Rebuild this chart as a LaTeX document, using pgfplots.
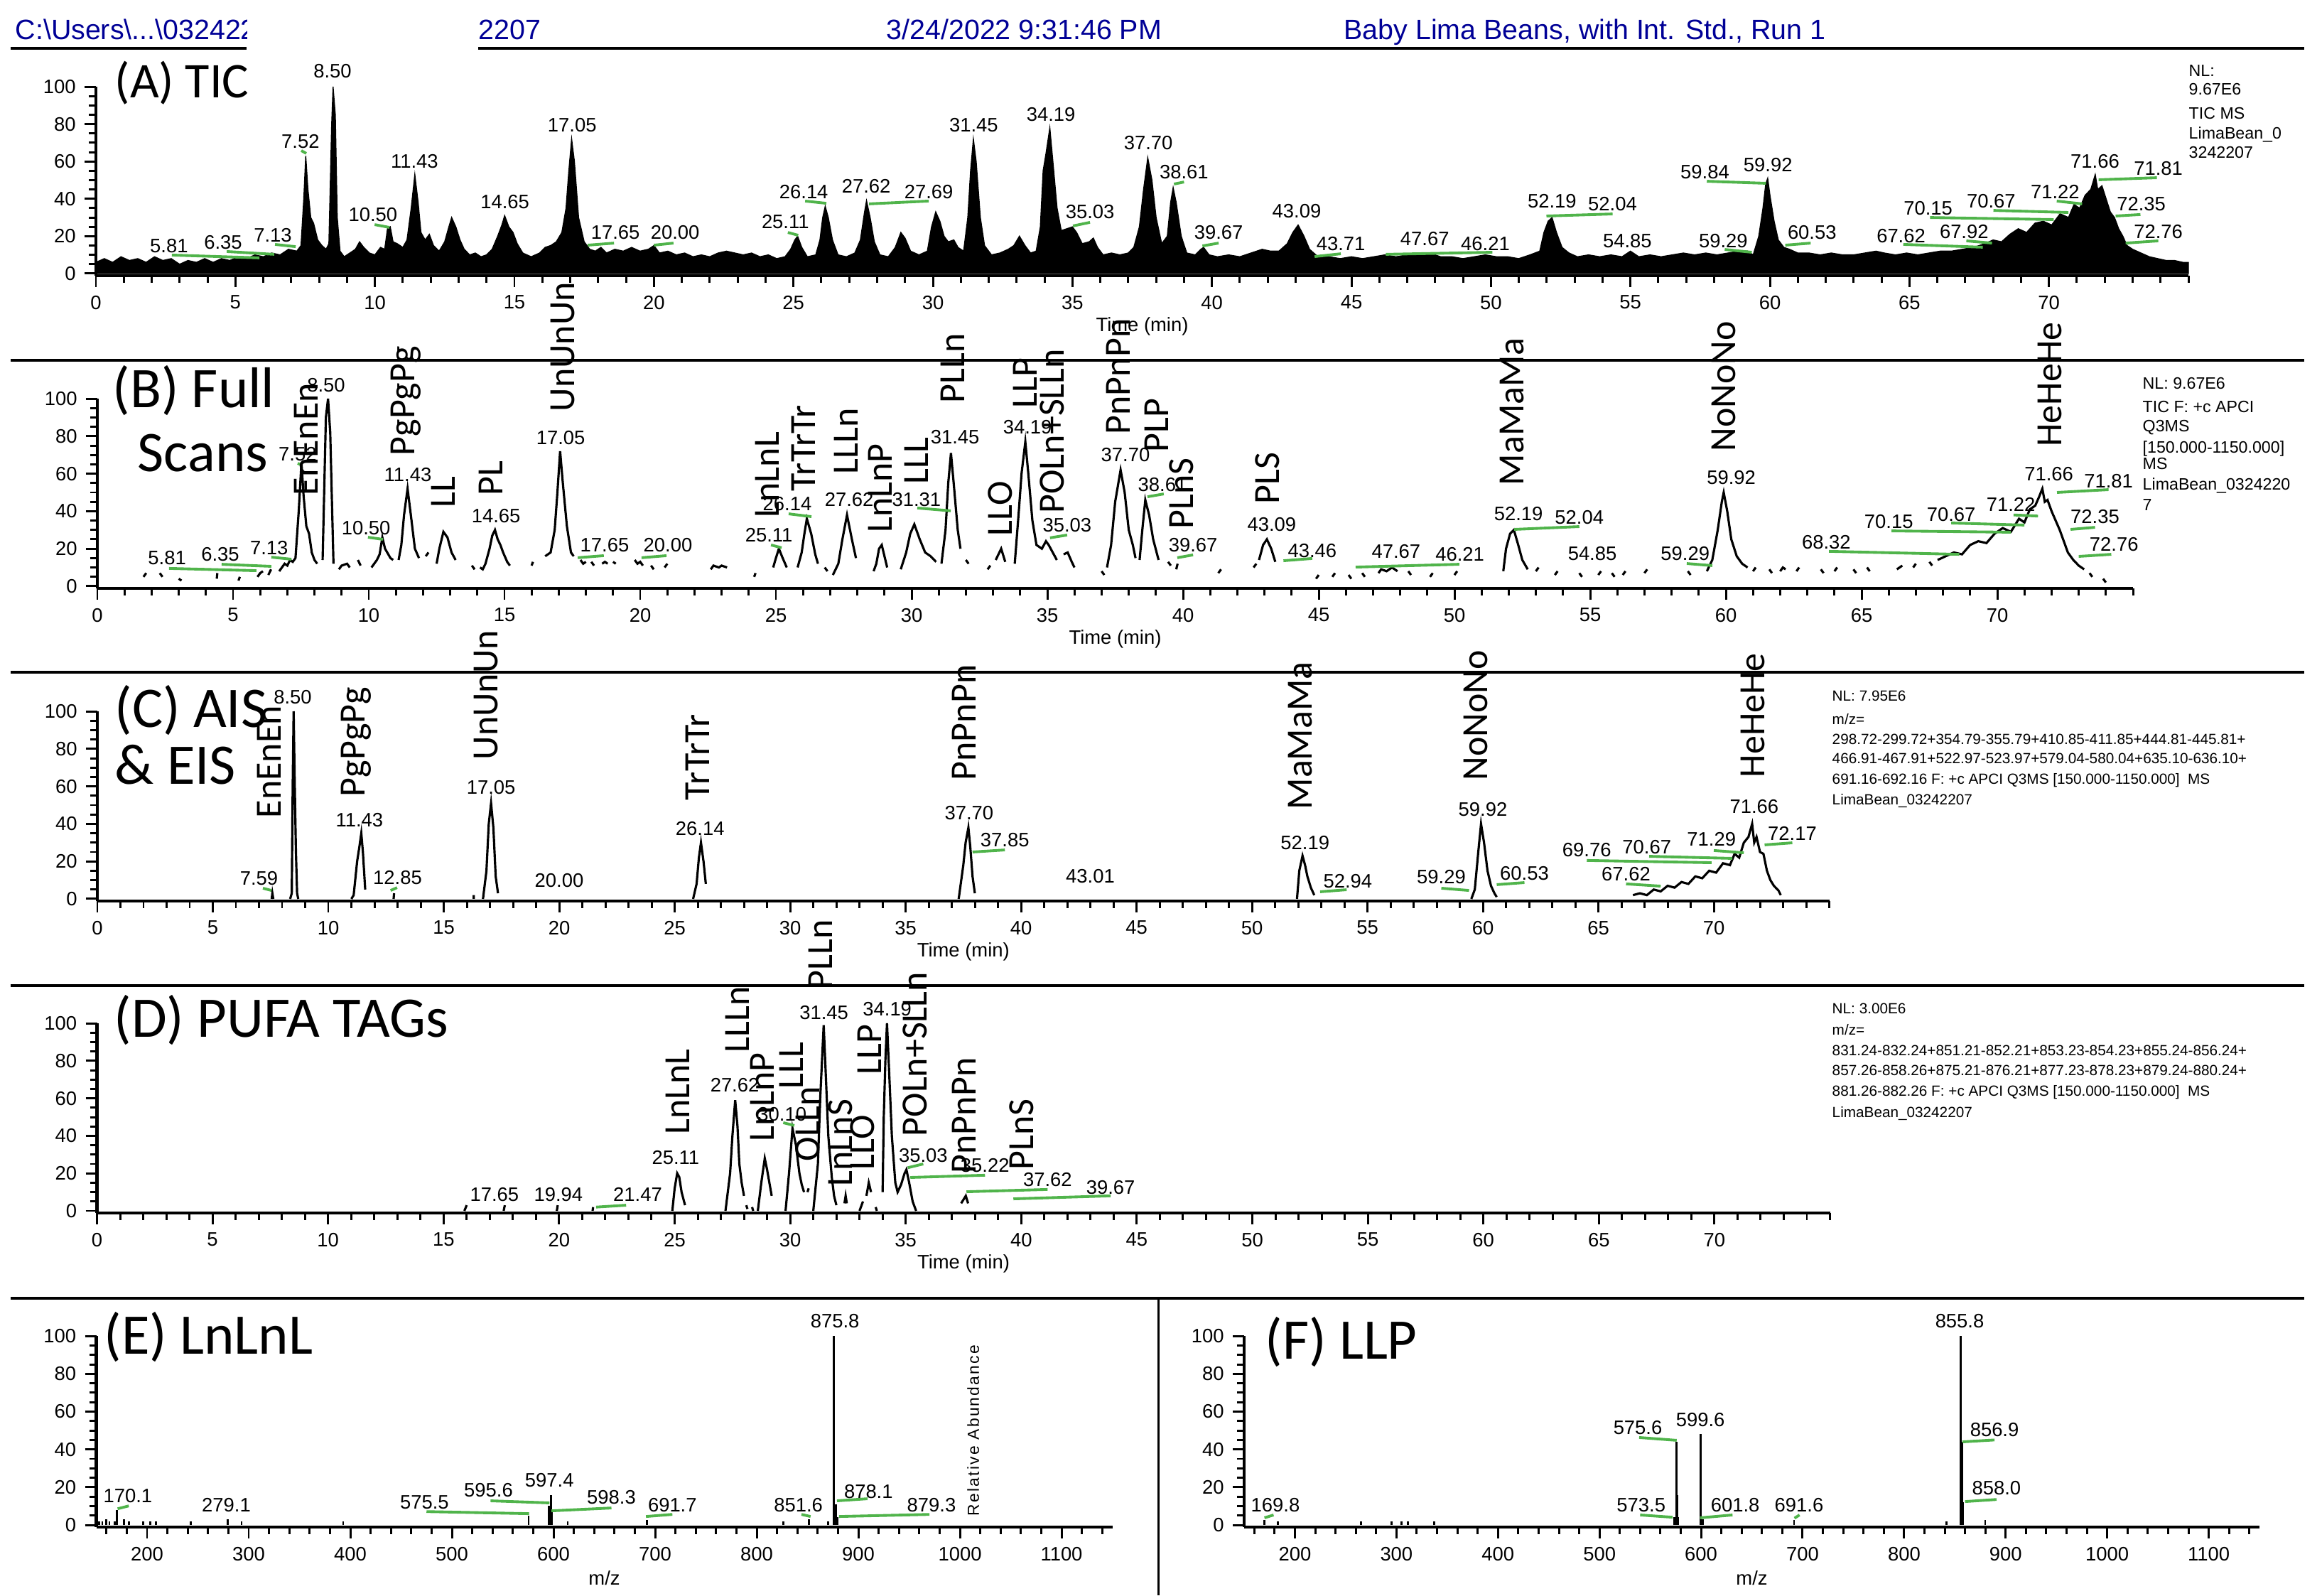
\documentclass[border=0pt]{standalone}
\usepackage{pgfplots}
\pgfplotsset{compat=1.18}
\usepackage{fontspec}
\setmainfont{Liberation Sans}
\newfontfamily\calib{Carlito}
\newfontfamily\spaced[LetterSpace=10]{Liberation Sans}
\definecolor{hdrblue}{RGB}{0,0,150}
\definecolor{lgreen}{RGB}{80,180,75}
\newcommand{\tf}{\fontsize{7.8}{9}\selectfont}

\pgfplotsset{
  panel/.style={
    scale only axis, clip=false, enlargelimits=false,
    axis x line=bottom, axis y line=left,
    axis line style={-, line width=1.2pt},
    ymin=-1, ymax=100,
    ytick={0,20,...,100}, minor ytick={5,10,...,95},
    tick align=outside, major tick length=0.16cm, minor tick length=0.1cm,
    tick style={black, line width=0.85pt},
    tick label style={font=\tf},
    /pgf/number format/assume math mode=true,
    /pgf/number format/1000 sep={},
    xlabel style={font=\tf, at={(axis description cs:0.5,0)}, anchor=center, yshift=-0.72cm},
  },
  chrom/.style={panel, xmin=0, xmax=75, xtick={0,5,...,70}, minor xtick={0,1,...,75}, xlabel={Time (min)}},
  spec/.style={panel, xmin=150, xmax=1150, xtick={200,300,...,1100}, minor xtick={160,180,...,1140}, xlabel={m/z}},
  trace/.style={black, line width=0.9pt, unbounded coords=jump, forget plot},
  grn/.style={lgreen, line width=1.1pt, forget plot},
}
\tikzset{
  pl/.style={anchor=base, inner sep=0pt, font=\tf},
  vlab/.style={rotate=90, anchor=west, inner sep=0pt, font=\calib\fontsize{14.8}{16}\selectfont},
  nl/.style={anchor=base west, inner sep=0pt, font=\fontsize{6.6}{8}\selectfont},
  nls/.style={anchor=base west, inner sep=0pt, font=\fontsize{5.9}{7}\selectfont},
  hdr/.style={anchor=base west, inner sep=0pt, text=hdrblue, font=\fontsize{11.2}{13}\selectfont},
  plab/.style={anchor=base west, inner sep=0pt, font=\calib\fontsize{23}{26}\selectfont},
}

\begin{document}
\begin{tikzpicture}
\useasboundingbox (0,0) rectangle (32.68,-22.45);

% header
\begin{scope}
  \clip (0,0) rectangle (3.47,-1);
  \node[hdr] at (0.21,-0.55) {C:\textbackslash Users\textbackslash ...\textbackslash 032422};
\end{scope}
\node[hdr] at (6.73,-0.55) {2207};
\node[hdr] at (12.47,-0.55) {3/24/2022 9:31:46 PM};
\node[hdr] at (18.91,-0.55) {Baby Lima Beans, with Int. Std., Run 1};
\draw[line width=0.04cm] (0.15,-0.68) -- (3.47,-0.68);
\draw[line width=0.04cm] (6.73,-0.68) -- (32.43,-0.68);
% separators
\foreach \yy in {5.07,9.46,13.87,18.27}
  \draw[line width=0.035cm] (0.15,-\yy) -- (32.43,-\yy);
\draw[line width=0.03cm] (16.30,-18.27) -- (16.30,-22.45);

% panel labels
\node[plab, font=\calib\fontsize{20}{22}\selectfont] at (1.61,-1.37) {(A) TIC};
\node[plab] at (1.58,-5.73) {(B) Full};
\node[plab] at (1.93,-6.63) {Scans};
\node[plab] at (1.61,-10.23) {(C) AIS};
\node[plab] at (1.61,-11.03) {\& EIS};
\node[plab] at (1.60,-14.59) {(D) PUFA TAGs};
\node[plab] at (1.46,-19.05) {(E) LnLnL};
\node[plab] at (17.80,-19.12) {(F) LLP};

% side texts
\node[nl] at (30.80,-1.07) {NL:};
\node[nl] at (30.80,-1.33) {9.67E6};
\node[nl] at (30.80,-1.67) {TIC MS};
\node[nl] at (30.80,-1.95) {LimaBean\_0};
\node[nl] at (30.80,-2.22) {3242207};

\node[nl] at (30.15,-5.47) {NL: 9.67E6};
\node[nl] at (30.15,-5.80) {TIC F: +c APCI};
\node[nl] at (30.15,-6.07) {Q3MS};
\node[nl] at (30.15,-6.37) {[150.000-1150.000]};
\node[nl] at (30.15,-6.60) {MS};
\node[nl] at (30.15,-6.89) {LimaBean\_0324220};
\node[nl] at (30.15,-7.18) {7};

\node[nls] at (25.78,-9.86) {NL: 7.95E6};
\node[nls] at (25.78,-10.19) {m/z=};
\node[nls] at (25.78,-10.47) {298.72-299.72+354.79-355.79+410.85-411.85+444.81-445.81+};
\node[nls] at (25.78,-10.74) {466.91-467.91+522.97-523.97+579.04-580.04+635.10-636.10+};
\node[nls] at (25.78,-11.03) {691.16-692.16 F: +c APCI Q3MS [150.000-1150.000]\ \ MS};
\node[nls] at (25.78,-11.32) {LimaBean\_03242207};

\node[nls] at (25.78,-14.26) {NL: 3.00E6};
\node[nls] at (25.78,-14.56) {m/z=};
\node[nls] at (25.78,-14.85) {831.24-832.24+851.21-852.21+853.23-854.23+855.24-856.24+};
\node[nls] at (25.78,-15.13) {857.26-858.26+875.21-876.21+877.23-878.23+879.24-880.24+};
\node[nls] at (25.78,-15.42) {881.26-882.26 F: +c APCI Q3MS [150.000-1150.000]\ \ MS};
\node[nls] at (25.78,-15.72) {LimaBean\_03242207};

% ================= (A) TIC
\begin{axis}[chrom, at={(1.35cm,-3.876cm)}, anchor=south west, width=29.45cm, height=2.656cm]
\addplot[fill=black, draw=black, line width=0.4pt, forget plot] coordinates {
(0,6)(0.3,8)(0.6,6)(0.9,9)(1.2,7)(1.5,8)(1.8,6)(2.1,9)(2.4,7)(2.7,8)(3.0,5)(3.3,7)(3.6,6)(3.9,8)(4.2,6)(4.5,8)(4.8,7)(5.1,9)(5.4,8)(5.7,10)(6.0,9)(6.3,11)(6.6,10)(6.9,13)(7.2,12)(7.35,15)(7.45,40)(7.52,63)(7.6,45)(7.7,30)(7.8,27)(7.95,18)(8.1,15)(8.25,13)(8.35,16)(8.45,80)(8.5,100)(8.58,85)(8.65,30)(8.75,12)(8.9,9)(9.1,11)(9.3,13)(9.45,17)(9.6,14)(9.8,11)(10.0,10)(10.2,14)(10.35,13)(10.45,24)(10.55,25)(10.65,17)(10.8,16)(11.0,14)(11.15,18)(11.3,35)(11.43,53)(11.55,38)(11.65,22)(11.8,18)(11.95,21)(12.1,15)(12.3,12)(12.5,17)(12.65,25)(12.75,30)(12.9,25)(13.05,18)(13.2,13)(13.4,10)(13.6,11)(13.8,9)(14.0,10)(14.2,13)(14.4,20)(14.55,26)(14.65,31)(14.8,25)(14.95,22)(15.1,16)(15.3,11)(15.6,9)(15.9,11)(16.1,14)(16.3,15)(16.5,17)(16.7,22)(16.85,35)(16.95,55)(17.05,72)(17.15,60)(17.3,30)(17.5,17)(17.7,13)(17.9,12)(18.1,14)(18.3,11)(18.6,13)(18.9,12)(19.2,14)(19.5,12)(19.8,13)(20.0,15)(20.2,11)(20.5,12)(20.8,10)(21.1,11)(21.4,9)(21.7,10)(22.0,9)(22.3,11)(22.6,12)(22.9,11)(23.2,10)(23.5,11)(23.8,9)(24.1,10)(24.4,8)(24.7,9)(24.9,13)(25.05,18)(25.15,20)(25.3,14)(25.5,9)(25.8,10)(25.95,18)(26.05,30)(26.14,36)(26.25,30)(26.4,18)(26.6,10)(26.9,9)(27.2,11)(27.4,18)(27.55,33)(27.62,39)(27.75,30)(27.9,17)(28.1,10)(28.4,9)(28.65,14)(28.85,22)(29.0,19)(29.2,12)(29.5,10)(29.8,12)(29.95,25)(30.1,33)(30.25,28)(30.4,20)(30.55,17)(30.75,18)(30.9,14)(31.1,12)(31.25,30)(31.35,55)(31.45,72)(31.55,60)(31.7,30)(31.85,15)(32.1,10)(32.4,11)(32.7,13)(32.9,15)(33.1,20)(33.3,15)(33.5,11)(33.7,12)(33.85,25)(33.95,55)(34.05,64)(34.19,78)(34.3,60)(34.45,35)(34.6,23)(34.8,24)(35.0,25)(35.15,22)(35.35,16)(35.6,17)(35.75,19)(35.9,14)(36.1,10)(36.4,11)(36.7,10)(37.0,11)(37.2,14)(37.4,25)(37.55,45)(37.7,62)(37.85,50)(38.0,30)(38.2,16)(38.4,20)(38.52,38)(38.61,46)(38.72,38)(38.9,20)(39.1,11)(39.4,10)(39.6,13)(39.7,14)(39.9,10)(40.2,9)(40.6,10)(41.0,9)(41.4,11)(41.8,13)(42.1,12)(42.4,12)(42.7,16)(42.9,22)(43.09,26)(43.3,20)(43.5,13)(43.8,9)(44.2,9)(44.6,8)(45.0,9)(45.4,8)(45.8,9)(46.2,10)(46.6,9)(47.0,10)(47.4,10)(47.8,11)(48.2,9)(48.6,9)(49.0,8)(49.4,9)(49.8,10)(50.2,9)(50.6,9)(51.0,8)(51.4,10)(51.75,12)(51.9,22)(52.05,28)(52.19,30)(52.35,22)(52.55,14)(52.8,11)(53.1,9)(53.5,10)(53.9,9)(54.3,10)(54.7,9)(55.0,12)(55.3,9)(55.7,10)(56.1,9)(56.5,10)(56.9,11)(57.3,10)(57.7,11)(58.1,10)(58.5,11)(58.9,12)(59.2,12)(59.4,10)(59.6,20)(59.75,35)(59.85,48)(59.92,51)(60.0,42)(60.15,28)(60.3,18)(60.5,14)(60.7,13)(61.0,11)(61.4,11)(61.8,10)(62.2,11)(62.6,10)(63.0,10)(63.4,11)(63.8,12)(64.1,11)(64.5,10)(64.9,11)(65.3,10)(65.7,11)(66.1,12)(66.5,12)(66.9,13)(67.3,14)(67.7,16)(68.0,18)(68.3,17)(68.6,21)(68.9,24)(69.2,22)(69.5,27)(69.8,28)(70.1,26)(70.4,32)(70.7,30)(70.9,37)(71.1,35)(71.3,42)(71.5,45)(71.6,50)(71.66,53)(71.75,45)(71.9,47)(72.05,40)(72.2,33)(72.35,30)(72.5,24)(72.65,20)(72.8,15)(73.0,13)(73.3,11)(73.6,9)(73.9,8)(74.2,7)(74.5,7)(74.8,6)(75,6)
} \closedcycle;
\addplot[grn] coordinates {(2.72,9.9)(5.86,8.4)};
\addplot[grn] coordinates {(4.69,11.8)(6.39,10.3)};
\addplot[grn] coordinates {(6.42,15.6)(7.16,14.4)};
\addplot[grn] coordinates {(7.36,65.8)(7.54,64.3)};
\addplot[grn] coordinates {(9.99,26.2)(10.52,24.7)};
\addplot[grn] coordinates {(17.63,15.2)(18.57,16.3)};
\addplot[grn] coordinates {(20.0,15.2)(20.7,16.3)};
\addplot[grn] coordinates {(24.8,22)(25.17,20.5)};
\addplot[grn] coordinates {(25.42,38.8)(26.18,37.6)};
\addplot[grn] coordinates {(27.71,37.3)(29.85,38.8)};
\addplot[grn] coordinates {(35.02,25.5)(35.63,27.4)};
\addplot[grn] coordinates {(38.64,47.9)(39.0,49.0)};
\addplot[grn] coordinates {(39.66,14.8)(40.24,16.3)};
\addplot[grn] coordinates {(43.68,9.1)(44.62,10.6)};
\addplot[grn] coordinates {(46.23,10.3)(50.05,11.4)};
\addplot[grn] coordinates {(51.99,30.8)(54.36,31.9)};
\addplot[grn] coordinates {(57.74,49.4)(59.86,48.3)};
\addplot[grn] coordinates {(58.38,12.9)(59.35,11.4)};
\addplot[grn] coordinates {(60.55,15.2)(61.46,16.3)};
\addplot[grn] coordinates {(64.78,15.6)(67.63,14.1)};
\addplot[grn] coordinates {(67.04,17.5)(67.96,16.3)};
\addplot[grn] coordinates {(65.74,30)(70.17,28.9)};
\addplot[grn] coordinates {(68.01,33.8)(70.7,32.7)};
\addplot[grn] coordinates {(70.28,38.8)(71.19,37.3)};
\addplot[grn] coordinates {(71.78,50.2)(73.87,51.3)};
\addplot[grn] coordinates {(72.39,30.8)(73.28,31.6)};
\addplot[grn] coordinates {(72.75,16.3)(73.92,17.5)};
\foreach \t/\v/\s in {2.62/11.4/5.81, 4.56/13.3/6.35, 6.34/17.1/7.13, 7.33/67.3/7.52, 8.48/104.6/8.50, 9.93/27.8/10.50, 11.42/56.3/11.43, 14.66/34.9/14.65, 17.07/76/17.05, 18.62/18.3/17.65, 20.76/18.3/20.00, 24.71/24/25.11, 25.37/40.3/26.14, 27.61/43/27.62, 29.85/40.3/27.69, 31.46/76/31.45, 34.23/81.7/34.19, 35.63/29.3/35.03, 37.72/66.5/37.70, 39.0/50.6/38.61, 40.24/18.3/39.67, 43.04/29.7/43.09, 44.62/12.2/43.71, 47.63/15.2/47.67, 49.8/12.5/46.21, 52.19/35/52.19, 54.36/33.5/52.04, 54.89/14/54.85, 58.33/13.7/59.29, 57.67/50.6/59.84, 59.93/54.4/59.92, 61.51/18.3/60.53, 64.7/16.7/67.62, 66.96/19/67.92, 65.67/31.2/70.15, 67.93/35/70.67, 70.22/40.3/71.22, 71.65/56.3/71.66, 73.92/52.5/71.81, 73.31/33.5/72.35, 73.92/19/72.76}
  {\edef\tmp{\noexpand\node[pl] at (axis cs:\t,\v) {\s};}\tmp}
\end{axis}

% ================= (B) Full scans
\begin{axis}[chrom, at={(1.37cm,-8.276cm)}, anchor=south west, width=28.65cm, height=2.666cm]
\addplot[trace] coordinates {
(1.7,5)(1.8,7) (1.8,nan) (2.3,7)(2.4,5) (2.4,nan) (3.0,4)(3.1,3) (3.1,nan) (4.4,4)(4.42,7) (4.5,nan) (5.2,3)(5.25,5) (5.3,nan) (5.9,5)(6.0,7)(6.1,8) (6.2,nan) (6.3,6)(6.4,9) (6.5,nan)
(6.7,8)(6.8,10)(6.9,12)(7.0,11)(7.1,14)(7.2,13)(7.3,15)(7.42,40)(7.52,66)(7.6,48)(7.7,32)(7.8,28)(7.9,18)(8.0,14)(8.1,12) (8.2,nan)
(8.3,14)(8.42,90)(8.5,100)(8.58,82)(8.7,12) (8.8,nan)
(8.9,9)(9.0,11)(9.2,12)(9.3,10) (9.4,nan) (9.6,14)(9.7,11) (9.8,nan)
(10.1,10)(10.3,14)(10.4,17)(10.5,26)(10.6,20)(10.8,15)(10.9,14) (11.0,nan)
(11.1,14)(11.2,22)(11.3,38)(11.43,52)(11.55,38)(11.7,20)(11.85,15) (11.9,nan) (12.1,16)(12.2,18) (12.3,nan)
(12.5,12)(12.6,20)(12.75,29)(12.9,26)(13.05,18)(13.2,14) (13.3,nan)
(13.8,11)(13.9,9) (14.0,nan) (14.1,10)(14.2,9)(14.3,12)(14.45,20)(14.55,27)(14.65,30)(14.75,25)(14.85,22)(14.95,18)(15.1,13)(15.2,11) (15.3,nan)
(16.0,11)(16.05,13) (16.1,nan)
(16.5,16)(16.7,18)(16.85,30)(16.95,50)(17.05,72)(17.15,55)(17.3,32)(17.45,18)(17.55,16) (17.6,nan)
(17.8,14)(17.9,12)(18.0,13) (18.1,nan) (18.2,13)(18.3,11) (18.4,nan) (18.6,12)(18.7,13)(18.8,12) (18.9,nan) (19.0,13)(19.1,12) (19.2,nan)
(19.8,14)(19.9,12)(20.0,13)(20.1,11) (20.2,nan) (20.4,11)(20.5,9) (20.6,nan) (20.9,10)(21.0,12) (21.1,nan)
(22.6,9)(22.7,11)(22.9,10)(23.0,11)(23.2,10) (23.3,nan) (24.2,5)(24.25,7) (24.3,nan)
(24.9,10)(25.0,15)(25.11,20)(25.25,15)(25.4,10) (25.5,nan)
(25.8,10)(25.95,18)(26.05,28)(26.14,36)(26.3,28)(26.45,17)(26.55,12) (26.6,nan) (26.8,10)(26.9,8) (27.0,nan)
(27.1,6)(27.3,12)(27.45,25)(27.62,38)(27.8,25)(27.95,15) (28.0,nan)
(28.6,8)(28.7,12)(28.8,20)(28.9,22)(29.0,16)(29.1,10) (29.2,nan)
(29.6,9)(29.8,18)(29.95,28)(30.1,33)(30.3,25)(30.5,18)(30.7,16)(30.9,13) (31.0,nan)
(31.1,12)(31.25,30)(31.35,55)(31.45,71)(31.55,55)(31.7,30)(31.8,20) (31.9,nan) (32.0,14)(32.1,12) (32.2,nan)
(32.8,9)(32.9,11) (33.0,nan) (33.1,14)(33.3,20)(33.45,13) (33.5,nan)
(33.8,12)(33.95,40)(34.05,60)(34.19,77)(34.3,60)(34.45,35)(34.6,22)(34.8,20)(34.95,24)(35.05,22)(35.2,18)(35.35,14) (35.4,nan)
(35.6,17)(35.75,18)(35.9,13)(36.0,10) (36.1,nan) (37.0,8)(37.1,6) (37.15,nan)
(37.2,10)(37.35,22)(37.5,45)(37.7,62)(37.85,50)(38.0,30)(38.15,22)(38.25,15) (38.3,nan)
(38.4,14)(38.5,30)(38.61,46)(38.75,38)(38.9,25)(39.1,14) (39.2,nan)
(39.45,13)(39.55,11) (39.6,nan) (39.75,9)(39.8,12) (39.9,nan) (41.3,7)(41.4,9) (41.5,nan)
(42.6,10)(42.7,12) (42.75,nan) (42.8,14)(42.95,22)(43.09,25)(43.25,20)(43.4,13) (43.5,nan)
(44.9,4)(45.0,6) (45.1,nan) (45.5,5)(45.6,7) (45.7,nan) (46.1,6)(46.2,4) (46.3,nan) (46.6,7)(46.7,5) (46.8,nan) (47.2,7)(47.3,9)(47.5,8)(47.7,10)(47.9,8) (48.0,nan) (48.3,8)(48.4,6) (48.5,nan) (49.1,5)(49.2,7) (49.3,nan) (50.0,6)(50.1,8) (50.2,nan)
(51.8,8)(51.9,20)(52.05,28)(52.19,30)(52.35,22)(52.5,14)(52.7,9) (52.8,nan)
(53.0,8)(53.1,10) (53.2,nan) (53.7,6)(53.8,8) (53.9,nan) (54.6,7)(54.7,5) (54.8,nan) (55.3,6)(55.4,8) (55.5,nan) (55.8,7)(55.9,5) (56.0,nan) (56.2,6)(56.3,8) (56.4,nan) (57.0,7)(57.1,9) (57.2,nan) (58.6,8)(58.7,6) (58.8,nan)
(59.3,8)(59.5,14)(59.7,30)(59.85,45)(59.92,50)(60.05,40)(60.2,25)(60.4,16)(60.6,12)(60.8,10) (60.85,nan)
(61.0,8)(61.1,10) (61.2,nan) (61.6,9)(61.7,7) (61.8,nan) (62.0,8)(62.1,10)(62.2,9) (62.3,nan) (62.6,8)(62.7,10) (62.8,nan) (63.5,9)(63.6,7) (63.7,nan) (64.0,8)(64.1,10) (64.2,nan) (64.7,9)(64.8,7) (64.9,nan) (65.2,10)(65.3,8) (65.4,nan) (66.3,9)(66.5,11) (66.6,nan) (66.9,10)(67.0,12) (67.1,nan) (67.5,13)(67.6,11) (67.7,nan)
(67.8,14)(68.1,16)(68.4,18)(68.7,17)(69.0,22)(69.3,24)(69.6,23)(69.9,28)(70.2,31)(70.5,29)(70.8,36)(71.0,34)(71.2,41)(71.4,43)(71.55,48)(71.66,52)(71.75,45)(71.85,46)(72.0,40)(72.15,35)(72.3,30)(72.45,24)(72.6,18)(72.8,14)(73.0,11)(73.2,9) (73.3,nan)
(73.4,7)(73.5,5) (73.6,nan) (73.9,4)(74.0,2)
};
\addplot[grn] coordinates {(2.64,9.5)(5.86,8.3)};
\addplot[grn] coordinates {(4.58,11.7)(6.41,10.6)};
\addplot[grn] coordinates {(6.41,15.5)(7.15,14.4)};
\addplot[grn] coordinates {(7.38,65.5)(7.51,64.8)};
\addplot[grn] coordinates {(9.97,26.1)(10.52,25)};
\addplot[grn] coordinates {(17.7,15.2)(18.66,16.3)};
\addplot[grn] coordinates {(20.05,15.2)(20.97,16.3)};
\addplot[grn] coordinates {(24.82,22)(25.21,20.5)};
\addplot[grn] coordinates {(25.47,38.6)(26.31,37.1)};
\addplot[grn] coordinates {(30.21,41.7)(31.44,40.2)};
\addplot[grn] coordinates {(35.1,25.8)(35.73,27.3)};
\addplot[grn] coordinates {(38.69,47.7)(39.29,49.2)};
\addplot[grn] coordinates {(39.79,15.2)(40.37,16.7)};
\addplot[grn] coordinates {(43.7,13.6)(44.76,14.8)};
\addplot[grn] coordinates {(46.36,10.2)(50.18,11.7)};
\addplot[grn] coordinates {(52.2,30.3)(54.6,31.8)};
\addplot[grn] coordinates {(58.56,12.1)(59.5,11)};
\addplot[grn] coordinates {(63.8,18.6)(68.6,17)};
\addplot[grn] coordinates {(66.1,29.5)(70.5,28.8)};
\addplot[grn] coordinates {(68.3,33.7)(71.0,32.6)};
\addplot[grn] coordinates {(70.6,38)(71.5,37.4)};
\addplot[grn] coordinates {(72.2,50)(74.1,51.5)};
\addplot[grn] coordinates {(72.7,30.3)(73.6,31.4)};
\addplot[grn] coordinates {(73.0,15.9)(74.2,17)};
\foreach \t/\v/\s in {2.57/11.4/5.81, 4.53/13.3/6.35, 6.33/17/7.13, 7.38/67/7.52, 8.43/103.5/8.50, 9.9/27.3/10.50, 11.44/56/11.43, 14.69/34/14.65, 17.07/75.4/17.05, 18.69/18.2/17.65, 21.02/18.2/20.00, 24.74/23.5/25.11, 25.42/40.2/26.14, 27.7/42.8/27.62, 30.18/42.8/31.31, 31.6/75.8/31.45, 34.27/81.4/34.19, 35.73/28.8/35.03, 37.88/66.3/37.70, 39.24/50.4/38.61, 40.37/18.2/39.67, 43.27/29.5/43.09, 44.76/15.5/43.46, 47.85/14.8/47.67, 50.2/13.3/46.21, 52.36/34.9/52.19, 54.6/33.3/52.04, 55.08/14/54.85, 58.5/14/59.29, 60.2/54.5/59.92, 63.7/20/68.32, 66.0/30.7/70.15, 68.3/34.5/70.67, 70.5/40/71.22, 71.9/56.3/71.66, 74.1/52.4/71.81, 73.6/33.7/72.35, 74.3/18.9/72.76}
  {\edef\tmp{\noexpand\node[pl] at (axis cs:\t,\v) {\s};}\tmp}
\foreach \t/\v/\s in {7.70/48.1/EnEnEn, 11.36/69.3/PgPgPg, 12.75/41.7/LL, 14.50/48.1/PL, 17.15/92.8/UnUnUn, 24.69/36.4/LnLnL, 26.02/50.4/TrTrTr, 27.59/59.5/LLLn, 28.85/28.4/LnLnP, 30.18/54.2/LLL, 31.52/97.3/PLLn, 33.27/26.5/LLO, 34.19/94.7/LLP, 35.18/38.6/POLn+SLLn, 37.62/80.7/PnPnPn, 39.03/71.2/PLP, 39.95/30.3/PLnS, 43.12/43.6/PLS, 52.12/53.4/MaMaMa, 59.92/71.6/NoNoNo, 71.94/74.2/HeHeHe}
  {\edef\tmp{\noexpand\node[vlab] at (axis cs:\t,\v) {\s};}\tmp}
\end{axis}

% ================= (C) AIS & EIS
\begin{axis}[chrom, at={(1.37cm,-12.676cm)}, anchor=south west, width=24.375cm, height=2.666cm]
\addplot[trace] coordinates {
(7.55,0)(7.58,3)(7.62,0) (7.7,nan)
(8.35,0)(8.42,3)(8.46,60)(8.5,100)(8.55,60)(8.6,25)(8.65,3)(8.7,0) (8.8,nan)
(11.0,0)(11.1,2)(11.25,20)(11.35,28)(11.43,35)(11.5,25)(11.6,5) (11.7,nan)
(12.83,0)(12.85,3) (12.9,nan) (16.3,0)(16.3,2) (16.4,nan)
(16.7,0)(16.85,15)(16.95,40)(17.05,51)(17.15,38)(17.25,12)(17.35,3) (17.4,nan)
(25.8,0)(25.95,8)(26.05,22)(26.14,30)(26.25,20)(26.35,8) (26.4,nan)
(37.3,0)(37.5,18)(37.6,30)(37.72,38)(37.8,28)(37.9,12)(38.0,3) (38.1,nan)
(51.95,0)(52.05,15)(52.19,23)(52.3,18)(52.4,12)(52.55,6)(52.7,2) (52.8,nan)
(59.5,0)(59.65,5)(59.8,25)(59.92,40)(60.05,30)(60.2,15)(60.35,7)(60.5,3)(60.6,1) (60.7,nan)
(66.5,2)(66.8,3)(67.1,2)(67.4,5)(67.7,4)(68.0,7)(68.3,6)(68.6,9)(68.9,8)(69.2,12)(69.5,11)(69.8,15)(70.1,14)(70.4,19)(70.7,18)(70.9,24)(71.1,22)(71.3,30)(71.5,33)(71.66,40)(71.75,30)(71.85,33)(72.0,25)(72.15,24)(72.3,15)(72.45,10)(72.6,7)(72.8,4.5)(72.9,2)
};
\addplot[grn] coordinates {(7.17,5.7)(7.54,4.5)};
\addplot[grn] coordinates {(12.7,4.5)(12.98,6)};
\addplot[grn] coordinates {(37.9,25)(39.3,26.1)};
\addplot[grn] coordinates {(52.95,3.8)(54.1,4.9)};
\addplot[grn] coordinates {(58.2,5.7)(59.4,4.5)};
\addplot[grn] coordinates {(60.6,7.6)(61.8,8.7)};
\addplot[grn] coordinates {(64.5,20.5)(69.9,19.3)};
\addplot[grn] coordinates {(67.2,22.7)(70.8,21.6)};
\addplot[grn] coordinates {(70.0,25.8)(71.3,24.6)};
\addplot[grn] coordinates {(72.2,28.8)(73.4,29.9)};
\addplot[grn] coordinates {(66.2,8)(67.7,6.8)};
\foreach \t/\v/\s in {7.0/7.2/7.59, 8.46/104/8.50, 11.35/38.6/11.43, 13.0/7.6/12.85, 17.05/55.7/17.05, 20.0/6.4/20.00, 26.1/34/26.14, 37.75/42.4/37.70, 39.3/27.7/37.85, 43.0/8.7/43.01, 52.3/26.5/52.19, 54.15/6/52.94, 58.2/8/59.29, 60.0/44.3/59.92, 61.8/10.2/60.53, 64.5/22.4/69.76, 67.1/24.2/70.67, 69.9/28.4/71.29, 71.75/45.5/71.66, 73.4/31.4/72.17, 66.2/9.8/67.62}
  {\edef\tmp{\noexpand\node[pl] at (axis cs:\t,\v) {\s};}\tmp}
\foreach \t/\v/\s in {7.45/42.8/EnEnEn, 11.2/54.2/PgPgPg, 16.83/73.9/UnUnUn, 26.0/52.3/TrTrTr, 37.54/62.9/PnPnPn, 52.1/47.3/MaMaMa, 59.7/62.9/NoNoNo, 71.7/64.4/HeHeHe}
  {\edef\tmp{\noexpand\node[vlab] at (axis cs:\t,\v) {\s};}\tmp}
\end{axis}

% ================= (D) PUFA TAGs
\begin{axis}[chrom, at={(1.365cm,-17.066cm)}, anchor=south west, width=24.39cm, height=2.666cm]
\addplot[trace] coordinates {
(15.9,0)(16.0,3) (16.1,nan) (17.6,0)(17.65,3) (17.7,nan) (19.9,0)(19.94,3) (20.0,nan) (21.45,0)(21.47,2) (21.5,nan)
(24.9,0)(25.0,12)(25.11,20)(25.2,18)(25.3,10)(25.45,3) (25.5,nan)
(27.2,0)(27.4,20)(27.5,40)(27.62,59)(27.72,45)(27.8,25)(27.9,15)(28.0,8) (28.05,nan)
(28.1,3)(28.15,1) (28.2,nan) (28.35,2)(28.4,0) (28.5,nan)
(28.6,0)(28.75,15)(28.9,28)(29.0,22)(29.1,15)(29.2,8) (29.3,nan)
(29.8,0)(29.95,20)(30.1,44)(30.25,35)(30.4,20)(30.5,14)(30.6,10) (30.7,nan) (30.75,10)(30.8,12) (30.9,nan)
(31.0,0)(31.2,25)(31.3,60)(31.45,99)(31.55,70)(31.65,40)(31.8,18)(31.9,8)(32.0,3) (32.1,nan)
(32.35,4)(32.4,8)(32.45,4) (32.5,nan)
(33.0,0)(33.15,5) (33.2,nan) (33.3,8)(33.4,15)(33.5,10) (33.6,nan) (33.7,2)(33.75,0) (33.8,nan)
(34.0,10)(34.05,50)(34.12,80)(34.19,100)(34.28,75)(34.4,40)(34.55,15)(34.65,10)(34.8,14)(34.95,20)(35.03,22)(35.15,15)(35.3,5)(35.45,0) (35.5,nan)
(37.4,4)(37.6,8)(37.7,4)
};
\addplot[grn] coordinates {(29.7,47)(30.18,45.5)};
\addplot[grn] coordinates {(35.09,23)(35.76,25)};
\addplot[grn] coordinates {(35.2,17.8)(38.43,19)};
\addplot[grn] coordinates {(37.63,10.2)(41.14,11.4)};
\addplot[grn] coordinates {(39.66,6.4)(43.87,8)};
\addplot[grn] coordinates {(21.6,2)(22.9,3)};
\foreach \t/\v/\s in {17.2/5/17.65, 19.97/5/19.94, 23.4/5/21.47, 25.04/25/25.11, 27.6/63.6/27.62, 29.65/48/30.10, 31.46/102/31.45, 34.2/104/34.19, 35.76/26/35.03, 38.43/20.5/35.22, 41.14/13/37.62, 43.87/9/39.67}
  {\edef\tmp{\noexpand\node[pl] at (axis cs:\t,\v) {\s};}\tmp}
\foreach \t/\v/\s in {25.13/40.5/LnLnL, 27.71/84.1/LLLn, 28.79/36.7/LnLnP, 30.05/64.8/LLL, 31.31/117.8/PLLn, 30.75/26.1/OLLn, 32.17/12.9/LnLnS, 33.12/21.6/LLO, 33.43/72.3/LLP, 35.39/39.4/POLn+SLLn, 37.51/19.7/PnPnPn, 40.0/21.6/PLnS}
  {\edef\tmp{\noexpand\node[vlab] at (axis cs:\t,\v) {\s};}\tmp}
\end{axis}

% ================= (E) LnLnL spectrum
\begin{axis}[spec, at={(1.355cm,-21.487cm)}, anchor=south west, width=14.30cm, height=2.686cm]
\addplot[ycomb, black, line width=0.8pt, forget plot] coordinates {
(151,3)(153,2)(156,2)(160,3)(163,2)(168,2)(170.1,8)(177,3)(182,2)(196,2)(203,2)(209,2)(243,2)(279.1,3)(293,2)(393,2)(575.5,5)(595.6,10)(597.4,16)(598.3,8)(614,2)(691.7,2.5)(826,2)(851.6,3)(870,2)(875.8,100)(878.1,11)(879.3,4)
};
\addplot[grn] coordinates {(171,8.6)(182,10.1)};
\addplot[grn] coordinates {(475,7.1)(576,6)};
\addplot[grn] coordinates {(538,12.8)(596,11.7)};
\addplot[grn] coordinates {(598,7.5)(657,9)};
\addplot[grn] coordinates {(691,4.5)(717,5.6)};
\addplot[grn] coordinates {(844,5.6)(853,4.5)};
\addplot[grn] coordinates {(879,12.8)(909,13.9)};
\addplot[grn] coordinates {(881,4.5)(970,5.6)};
\foreach \t/\v/\s in {877/104.5/875.8, 181/11.7/170.1, 278/6.8/279.1, 473/8.6/575.5, 536/14.7/595.6, 596/20.3/597.4, 657/11/598.3, 717/6.8/691.7, 841/6.8/851.6, 910/14.3/878.1, 972/6.8/879.3}
  {\edef\tmp{\noexpand\node[pl] at (axis cs:\t,\v) {\s};}\tmp}
\node[rotate=90, anchor=center, inner sep=0pt, font=\spaced\fontsize{6.5}{8}\selectfont] at (axis cs:1013,50) {Relative Abundance};
\end{axis}

% ================= (F) LLP spectrum
\begin{axis}[spec, at={(17.51cm,-21.487cm)}, anchor=south west, width=14.29cm, height=2.686cm]
\addplot[ycomb, black, line width=0.8pt, forget plot] coordinates {
(169.8,2.7)(183,2)(265,2)(295,2)(305,2)(311,2)(337,2)(573.5,4)(575.6,44)(576.4,16)(577.5,4)(599.6,48)(601.8,3)(691.6,2.6)(842,2)(855.8,100)(856.9,44)(858.0,12)(879.8,2.5)
};
\addplot[grn] coordinates {(539,46.3)(576,44.8)};
\addplot[grn] coordinates {(857.5,44)(889,45)};
\addplot[grn] coordinates {(860,12.4)(891,13.5)};
\addplot[grn] coordinates {(170,3.8)(179,5.3)};
\addplot[grn] coordinates {(540,5.3)(572,4.1)};
\addplot[grn] coordinates {(599,3.8)(631,5.3)};
\addplot[grn] coordinates {(692,3.6)(697,5.3)};
\foreach \t/\v/\s in {854.7/104.5/855.8, 537.7/48/575.6, 599.3/52/599.6, 889/47/856.9, 891/16/858.0, 180.8/6.8/169.8, 541/6.8/573.5, 633.6/6.8/601.8, 696.5/6.8/691.6}
  {\edef\tmp{\noexpand\node[pl] at (axis cs:\t,\v) {\s};}\tmp}
\end{axis}
\end{tikzpicture}
\end{document}
